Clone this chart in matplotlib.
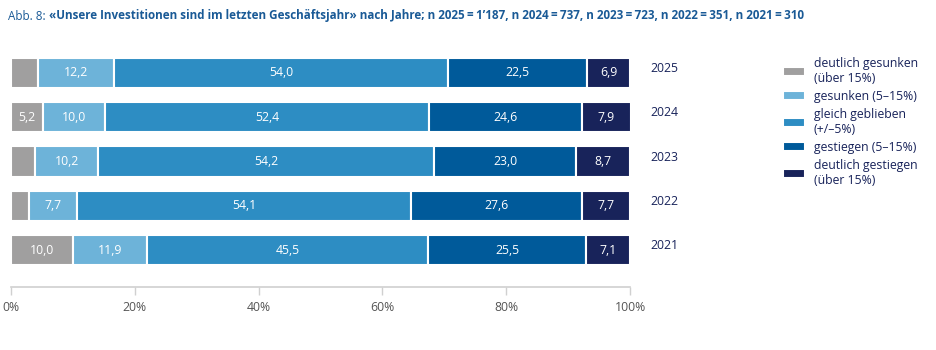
import matplotlib
matplotlib.use("Agg")
import matplotlib.pyplot as plt
import numpy as np

plt.rcParams['font.family'] = ['Open Sans', 'DejaVu Sans']

years = ['2021', '2022', '2023', '2024', '2025']
categories = ['deutlich gesunken\n(über 15%)', 'gesunken (5–15%)', 'gleich geblieben\n(+/–5%)',
              'gestiegen (5–15%)', 'deutlich gestiegen\n(über 15%)']
deutlich_gesunken = [10.0, 2.9, 3.9, 5.2, 4.4]
gesunken = [11.9, 7.7, 10.2, 10.0, 12.2]
gleich = [45.5, 54.1, 54.2, 52.4, 54.0]
gestiegen = [25.5, 27.6, 23.0, 24.6, 22.5]
deutlich_gestiegen = [7.1, 7.7, 8.7, 7.9, 6.9]
colors = ['#a09f9f', '#6db3d9', '#2d8dc3', '#005a9a', '#18235a']

title_prefix = "Abb. 8: "
title = ("«Unsere Investitionen sind im letzten Geschäftsjahr» nach Jahre; "
         "n 2025\u2009=\u20091’187, n 2024\u2009=\u2009737, n 2023\u2009=\u2009723, "
         "n 2022\u2009=\u2009351, n 2021\u2009=\u2009310")

series = [deutlich_gesunken, gesunken, gleich, gestiegen, deutlich_gestiegen]

fig = plt.figure(figsize=(9.36, 3.5), dpi=100)
ax = fig.add_axes([11 / 936, 1 - 287 / 350, 619 / 936, (287 - 36) / 350])

y = np.arange(len(years))
left = np.zeros(len(years))
handles = []
for vals, col, lab in zip(series, colors, categories):
    vals = np.array(vals)
    bars = ax.barh(y, vals, left=left, height=0.68, color=col, edgecolor='white',
                   linewidth=1.5, label=lab)
    handles.append(bars)
    txt = [f'{v:.1f}'.replace('.', ',') if v >= 5 else '' for v in vals]
    ax.bar_label(bars, labels=txt, label_type='center', color='white', fontsize=8.8)
    left += vals

for i, yr in enumerate(years):
    ax.text(105.6, i + 0.1, yr, ha='center', va='center', fontsize=8.8, color='#18235a')

ax.set_xlim(0, 100)
ax.set_ylim(-0.836, 4.836)
ax.set_xticks(np.arange(0, 101, 20))
ax.set_xticklabels([f'{t}%' for t in range(0, 101, 20)], color='#555555', fontsize=8.8)
ax.set_yticks([])
for s in ['top', 'right', 'left']:
    ax.spines[s].set_visible(False)
ax.spines['bottom'].set_color('#d0d0d0')
ax.spines['bottom'].set_linewidth(1.2)
ax.tick_params(axis='x', length=6, color='#d0d0d0', width=1, pad=4)

t1 = fig.text(8 / 936, 1 - 16 / 350, title_prefix, fontsize=8.4, color='#1a5a96',
              va='center', ha='left')
fig.canvas.draw()
bb = t1.get_window_extent()
fig.text(bb.x1 / fig.bbox.width, 1 - 16 / 350, title, fontsize=8.4, fontweight='bold',
         color='#1a5a96', va='center', ha='left')

fig.legend(handles=handles, labels=categories, loc='upper left', bbox_to_anchor=(772 / 936, 1 - 46 / 350),
           frameon=False, fontsize=8.8, handlelength=1.8, handleheight=0.75, labelspacing=0.4,
           handletextpad=0.7, labelcolor='#18235a')

fig.savefig('out.png', dpi=100)
